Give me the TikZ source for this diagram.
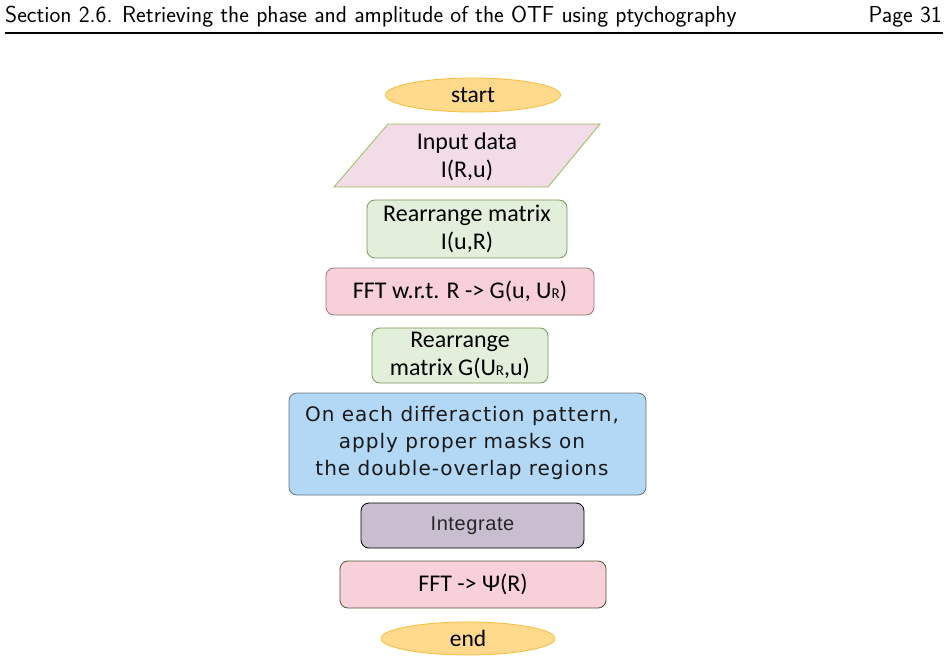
\documentclass[tikz,border=0pt]{standalone}
\usepackage{fontspec}
\setmainfont{Carlito}
\newfontfamily\dejafont[LetterSpace=5]{DejaVu Sans}
\newfontfamily\arialfont[LetterSpace=3]{Liberation Sans}
\usetikzlibrary{shapes.geometric}
\definecolor{ovalfill}{RGB}{255,217,140}
\definecolor{ovaldraw}{RGB}{245,190,60}
\definecolor{parafill}{RGB}{242,220,232}
\definecolor{paradraw}{RGB}{155,187,89}
\definecolor{greenfill}{RGB}{226,239,218}
\definecolor{greendraw}{RGB}{120,150,95}
\definecolor{pinkfill}{RGB}{248,208,218}
\definecolor{pinkdraw}{RGB}{150,120,125}
\definecolor{bluefill}{RGB}{178,216,245}
\definecolor{bluedraw}{RGB}{105,115,125}
\definecolor{purpfill}{RGB}{200,190,208}
\definecolor{psidraw}{RGB}{85,85,55}
\tikzset{
  oval/.style={ellipse, fill=ovalfill, draw=ovaldraw, line width=0.8pt, inner sep=0pt,
    font=\fontsize{23.5}{26}\selectfont},
  boxbase/.style={rounded corners=8pt, line width=0.8pt, inner sep=0pt, align=center,
    font=\fontsize{24}{28}\selectfont},
  greenbox/.style={boxbase, fill=greenfill, draw=greendraw},
  pinkbox/.style={boxbase, fill=pinkfill, draw=pinkdraw},
  bluebox/.style={boxbase, fill=bluefill, draw=bluedraw},
  bluetext/.style={inner sep=0pt, align=center, font=\dejafont\fontsize{20}{27}\selectfont, text=black!90},
  purpbox/.style={boxbase, fill=purpfill, draw=black, font=\arialfont\fontsize{20}{24}\selectfont, text=black!85},
  psibox/.style={boxbase, fill=pinkfill, draw=psidraw},
}
\newcommand{\subR}{{\fontsize{15}{15}\selectfont R}}
\begin{document}
\begin{tikzpicture}[x=1pt,y=-1pt]
\useasboundingbox[fill=white] (0,0) rectangle (948,661);
% header
\node[anchor=base west, inner sep=0pt, font=\sffamily\fontsize{23.1}{26}\selectfont] (hdr) at (5,23) {Section 2.6. Retrieving the phase and amplitude of the OTF using ptychography};
\node[anchor=base east, inner sep=0pt, font=\sffamily\fontsize{23.1}{26}\selectfont] (pg) at (942,23) {Page 31};
\coordinate (rl) at (5,33);
\coordinate (rr) at (943,33);
\draw[line width=1.6pt] (rl) -- (rr);
% start
\node[oval, minimum width=175pt, minimum height=34pt] (start) at (473,95) {start};
% input parallelogram
\coordinate (p1) at (388,124);
\coordinate (p2) at (600,124);
\coordinate (p3) at (548,187);
\coordinate (p4) at (334,187);
\draw[fill=parafill, draw=paradraw, line width=0.8pt] (p1) -- (p2) -- (p3) -- (p4) -- cycle;
\node[align=center, inner sep=0pt, font=\fontsize{24}{28}\selectfont] (input) at (467,157) {Input data\\I(R,u)};
% rearrange 1
\node[greenbox, minimum width=200pt, minimum height=58pt] (rear1) at (467,229) {Rearrange matrix\\I(u,R)};
% FFT 1
\node[pinkbox, minimum width=268pt, minimum height=47pt] (fft1) at (460,291.5) {FFT w.r.t. R -> G(u, U\subR)};
% rearrange 2
\node[greenbox, minimum width=176pt, minimum height=55pt] (rear2) at (460,355.5) {Rearrange\\matrix G(U\subR,u)};
% blue box
\node[bluebox, minimum width=357pt, minimum height=102pt] (mask) at (467.5,444) {};
\node[bluetext] (masktext) at (462,443) {On each differaction pattern,\\apply proper masks on\\the double-overlap regions};
% integrate
\node[purpbox, minimum width=223pt, minimum height=45pt] (integ) at (472.5,525.5) {Integrate};
% FFT psi
\node[psibox, minimum width=266pt, minimum height=47pt] (fft2) at (473,584.5) {FFT -> Ψ(R)};
% end
\node[oval, minimum width=174pt, minimum height=33pt] (end) at (468,638.5) {end};
\end{tikzpicture}
\end{document}
